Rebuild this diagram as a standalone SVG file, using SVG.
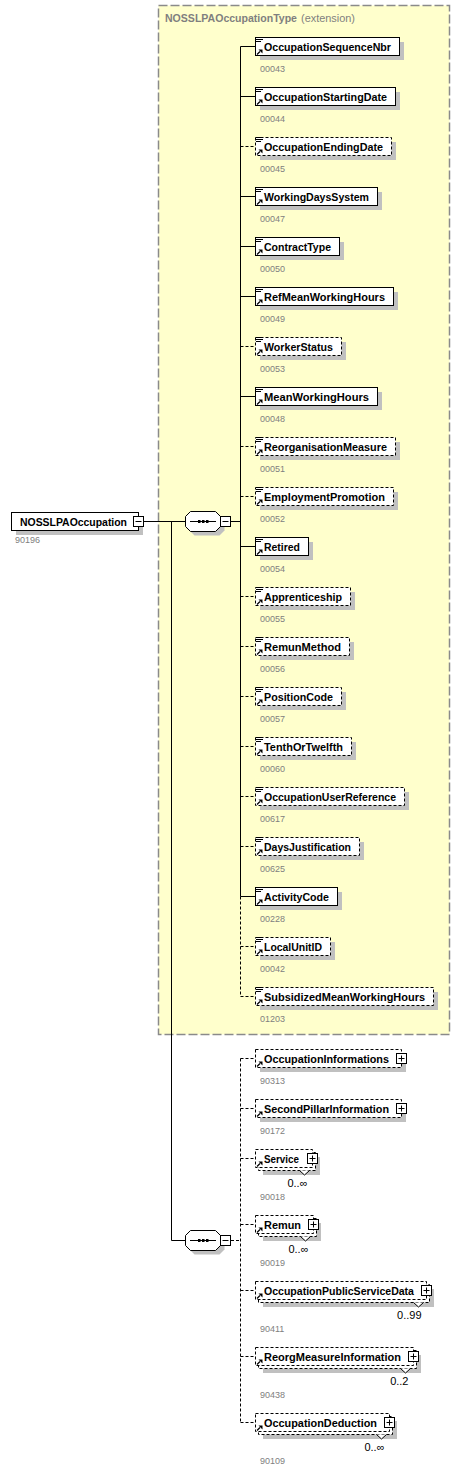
<svg xmlns="http://www.w3.org/2000/svg" width="461" height="1471" viewBox="0 0 461 1471">
<style>
.bx{fill:#fff;stroke:#000;stroke-width:1}
.opt{stroke-dasharray:3 2}
.sh{fill:#c0c0c0}
.nm{font-family:"Liberation Sans",Arial,sans-serif;font-weight:bold;font-size:11.5px;fill:#000}
.sb{font-family:"Liberation Sans",Arial,sans-serif;font-size:9px;fill:#808080}
.mu{font-family:"Liberation Sans",Arial,sans-serif;font-size:11px;fill:#000}
.tt{font-family:"Liberation Sans",Arial,sans-serif;font-size:11px;fill:#7f7f7f}
.ln{fill:none;stroke:#000;stroke-width:1}
.dl{stroke-dasharray:3 2}
.chev{fill:#fff;stroke:#000;stroke-width:1}
</style>
<defs>
<g id="doc"><rect x="1" y="0" width="7" height="5" fill="#fff"/><path d="M1 0.5h7M1 2.5h7M1 4.5h5" stroke="#000" stroke-width="1"/></g>
<g id="arr"><path d="M2 6.5L5 3.5" stroke="#000" stroke-width="1.2"/><path d="M3.5 1.5H7.5V5.5Z" fill="#000"/></g>
<g id="plus"><rect x="0" y="0" width="10" height="10" fill="#fff" stroke="#000"/><path d="M2 5h6M5 2v6" stroke="#000"/></g>
<g id="minus"><rect x="0" y="0" width="10" height="10" fill="#fff" stroke="#000"/><path d="M2 5h6" stroke="#000"/></g>
<g id="seq">
<path class="sh" d="M194.5 515.5H219.5L224.5 520.5V530.5L219.5 535.5H194.5L189.5 530.5V520.5Z"/>
<path d="M190.5 511.5H215.5L220.5 516.5V526.5L215.5 531.5H190.5L185.5 526.5V516.5Z" fill="#fff" stroke="#000"/>
<path d="M190 521.5H216" stroke="#000"/>
<rect x="198" y="520" width="2.5" height="3" fill="#000"/>
<rect x="202" y="520" width="2.5" height="3" fill="#000"/>
<rect x="206" y="520" width="2.5" height="3" fill="#000"/>
<use href="#minus" x="220.5" y="516.5"/>
</g>
</defs>

<g id="type-box">
<rect x="158.5" y="5.5" width="291" height="1029" fill="#FFFFCC" stroke="#8a8a8a" stroke-width="1.5" stroke-dasharray="9 3"/>
<text class="tt" x="165" y="21.5" font-weight="bold" textLength="132" lengthAdjust="spacingAndGlyphs">NOSSLPAOccupationType</text>
<text class="tt" x="301" y="21.5" textLength="54" lengthAdjust="spacingAndGlyphs">(extension)</text>
</g>

<g id="connectors">
<path class="ln" d="M143.5 521.5H186"/>
<path class="ln" d="M171.5 521.5V1240.5H186"/>
<path class="ln" d="M231 521.5H240.5"/>
<path class="ln" d="M240.5 46.5V896.5"/>
<path class="ln dl" d="M240.5 896.5V996.5"/>
<path class="ln" d="M240.5 46.5H255.5M240.5 96.5H255.5M240.5 196.5H255.5M240.5 246.5H255.5M240.5 296.5H255.5M240.5 396.5H255.5M240.5 546.5H255.5M240.5 896.5H255.5"/>
<path class="ln dl" d="M240.5 146.5H255.5M240.5 346.5H255.5M240.5 446.5H255.5M240.5 496.5H255.5M240.5 596.5H255.5M240.5 646.5H255.5M240.5 696.5H255.5M240.5 746.5H255.5M240.5 796.5H255.5M240.5 846.5H255.5M240.5 946.5H255.5M240.5 996.5H255.5"/>
<path class="ln dl" d="M231 1240.5H240.5"/>
<path class="ln dl" d="M240.5 1058.5V1422.5"/>
<path class="ln dl" d="M240.5 1058.5H255.5M240.5 1108.5H255.5M240.5 1158.5H255.5M240.5 1224.5H255.5M240.5 1290.5H255.5M240.5 1356.5H255.5M240.5 1422.5H255.5"/>
</g>

<g id="NOSSLPAOccupation" transform="translate(11,512)">
<rect class="sh" x="5" y="5" width="127" height="18"/>
<rect class="bx" x="0.5" y="0.5" width="127" height="18"/>
<text class="nm" x="9" y="14" font-size="12" textLength="107" lengthAdjust="spacingAndGlyphs">NOSSLPAOccupation</text>
<use href="#minus" x="122.5" y="4.5"/>
<text class="sb" x="4" y="31">90196</text>
</g>

<g id="sequence1"><use href="#seq"/></g>
<g id="sequence2"><use href="#seq" transform="translate(0,719)"/></g>

<g id="OccupationSequenceNbr" transform="translate(255,37)">
<rect class="sh" x="5" y="5" width="144" height="18"/><rect class="bx" x="0.5" y="0.5" width="144" height="18"/>
<use href="#doc"/><use href="#arr" y="11"/>
<text class="nm" x="9" y="13.5" textLength="127" lengthAdjust="spacingAndGlyphs">OccupationSequenceNbr</text>
<text class="sb" x="5" y="34.5">00043</text></g>

<g id="OccupationStartingDate" transform="translate(255,87)">
<rect class="sh" x="5" y="5" width="140" height="18"/><rect class="bx" x="0.5" y="0.5" width="140" height="18"/>
<use href="#doc"/><use href="#arr" y="11"/>
<text class="nm" x="9" y="13.5" textLength="123" lengthAdjust="spacingAndGlyphs">OccupationStartingDate</text>
<text class="sb" x="5" y="34.5">00044</text></g>

<g id="OccupationEndingDate" transform="translate(255,137)">
<rect class="sh" x="5" y="5" width="136" height="18"/><rect class="bx opt" x="0.5" y="0.5" width="136" height="18"/>
<use href="#doc"/><use href="#arr" y="11"/>
<text class="nm" x="9" y="13.5" textLength="119" lengthAdjust="spacingAndGlyphs">OccupationEndingDate</text>
<text class="sb" x="5" y="34.5">00045</text></g>

<g id="WorkingDaysSystem" transform="translate(255,187)">
<rect class="sh" x="5" y="5" width="122" height="18"/><rect class="bx" x="0.5" y="0.5" width="122" height="18"/>
<use href="#doc"/><use href="#arr" y="11"/>
<text class="nm" x="9" y="13.5" textLength="105" lengthAdjust="spacingAndGlyphs">WorkingDaysSystem</text>
<text class="sb" x="5" y="34.5">00047</text></g>

<g id="ContractType" transform="translate(255,237)">
<rect class="sh" x="5" y="5" width="84" height="18"/><rect class="bx" x="0.5" y="0.5" width="84" height="18"/>
<use href="#doc"/><use href="#arr" y="11"/>
<text class="nm" x="9" y="13.5" textLength="67" lengthAdjust="spacingAndGlyphs">ContractType</text>
<text class="sb" x="5" y="34.5">00050</text></g>

<g id="RefMeanWorkingHours" transform="translate(255,287)">
<rect class="sh" x="5" y="5" width="138" height="18"/><rect class="bx" x="0.5" y="0.5" width="138" height="18"/>
<use href="#doc"/><use href="#arr" y="11"/>
<text class="nm" x="9" y="13.5" textLength="121" lengthAdjust="spacingAndGlyphs">RefMeanWorkingHours</text>
<text class="sb" x="5" y="34.5">00049</text></g>

<g id="WorkerStatus" transform="translate(255,337)">
<rect class="sh" x="5" y="5" width="86" height="18"/><rect class="bx opt" x="0.5" y="0.5" width="86" height="18"/>
<use href="#doc"/><use href="#arr" y="11"/>
<text class="nm" x="9" y="13.5" textLength="69" lengthAdjust="spacingAndGlyphs">WorkerStatus</text>
<text class="sb" x="5" y="34.5">00053</text></g>

<g id="MeanWorkingHours" transform="translate(255,387)">
<rect class="sh" x="5" y="5" width="122" height="18"/><rect class="bx" x="0.5" y="0.5" width="122" height="18"/>
<use href="#doc"/><use href="#arr" y="11"/>
<text class="nm" x="9" y="13.5" textLength="105" lengthAdjust="spacingAndGlyphs">MeanWorkingHours</text>
<text class="sb" x="5" y="34.5">00048</text></g>

<g id="ReorganisationMeasure" transform="translate(255,437)">
<rect class="sh" x="5" y="5" width="140" height="18"/><rect class="bx opt" x="0.5" y="0.5" width="140" height="18"/>
<use href="#doc"/><use href="#arr" y="11"/>
<text class="nm" x="9" y="13.5" textLength="123" lengthAdjust="spacingAndGlyphs">ReorganisationMeasure</text>
<text class="sb" x="5" y="34.5">00051</text></g>

<g id="EmploymentPromotion" transform="translate(255,487)">
<rect class="sh" x="5" y="5" width="138" height="18"/><rect class="bx opt" x="0.5" y="0.5" width="138" height="18"/>
<use href="#doc"/><use href="#arr" y="11"/>
<text class="nm" x="9" y="13.5" textLength="121" lengthAdjust="spacingAndGlyphs">EmploymentPromotion</text>
<text class="sb" x="5" y="34.5">00052</text></g>

<g id="Retired" transform="translate(255,537)">
<rect class="sh" x="5" y="5" width="53" height="18"/><rect class="bx" x="0.5" y="0.5" width="53" height="18"/>
<use href="#doc"/><use href="#arr" y="11"/>
<text class="nm" x="9" y="13.5" textLength="36" lengthAdjust="spacingAndGlyphs">Retired</text>
<text class="sb" x="5" y="34.5">00054</text></g>

<g id="Apprenticeship" transform="translate(255,587)">
<rect class="sh" x="5" y="5" width="95" height="18"/><rect class="bx opt" x="0.5" y="0.5" width="95" height="18"/>
<use href="#doc"/><use href="#arr" y="11"/>
<text class="nm" x="9" y="13.5" textLength="78" lengthAdjust="spacingAndGlyphs">Apprenticeship</text>
<text class="sb" x="5" y="34.5">00055</text></g>

<g id="RemunMethod" transform="translate(255,637)">
<rect class="sh" x="5" y="5" width="94" height="18"/><rect class="bx opt" x="0.5" y="0.5" width="94" height="18"/>
<use href="#doc"/><use href="#arr" y="11"/>
<text class="nm" x="9" y="13.5" textLength="77" lengthAdjust="spacingAndGlyphs">RemunMethod</text>
<text class="sb" x="5" y="34.5">00056</text></g>

<g id="PositionCode" transform="translate(255,687)">
<rect class="sh" x="5" y="5" width="86" height="18"/><rect class="bx opt" x="0.5" y="0.5" width="86" height="18"/>
<use href="#doc"/><use href="#arr" y="11"/>
<text class="nm" x="9" y="13.5" textLength="69" lengthAdjust="spacingAndGlyphs">PositionCode</text>
<text class="sb" x="5" y="34.5">00057</text></g>

<g id="TenthOrTwelfth" transform="translate(255,737)">
<rect class="sh" x="5" y="5" width="96" height="18"/><rect class="bx opt" x="0.5" y="0.5" width="96" height="18"/>
<use href="#doc"/><use href="#arr" y="11"/>
<text class="nm" x="9" y="13.5" textLength="79" lengthAdjust="spacingAndGlyphs">TenthOrTwelfth</text>
<text class="sb" x="5" y="34.5">00060</text></g>

<g id="OccupationUserReference" transform="translate(255,787)">
<rect class="sh" x="5" y="5" width="149" height="18"/><rect class="bx opt" x="0.5" y="0.5" width="149" height="18"/>
<use href="#doc"/><use href="#arr" y="11"/>
<text class="nm" x="9" y="13.5" textLength="132" lengthAdjust="spacingAndGlyphs">OccupationUserReference</text>
<text class="sb" x="5" y="34.5">00617</text></g>

<g id="DaysJustification" transform="translate(255,837)">
<rect class="sh" x="5" y="5" width="104" height="18"/><rect class="bx opt" x="0.5" y="0.5" width="104" height="18"/>
<use href="#doc"/><use href="#arr" y="11"/>
<text class="nm" x="9" y="13.5" textLength="87" lengthAdjust="spacingAndGlyphs">DaysJustification</text>
<text class="sb" x="5" y="34.5">00625</text></g>

<g id="ActivityCode" transform="translate(255,887)">
<rect class="sh" x="5" y="5" width="82" height="18"/><rect class="bx" x="0.5" y="0.5" width="82" height="18"/>
<use href="#doc"/><use href="#arr" y="11"/>
<text class="nm" x="9" y="13.5" textLength="65" lengthAdjust="spacingAndGlyphs">ActivityCode</text>
<text class="sb" x="5" y="34.5">00228</text></g>

<g id="LocalUnitID" transform="translate(255,937)">
<rect class="sh" x="5" y="5" width="75" height="18"/><rect class="bx opt" x="0.5" y="0.5" width="75" height="18"/>
<use href="#doc"/><use href="#arr" y="11"/>
<text class="nm" x="9" y="13.5" textLength="58" lengthAdjust="spacingAndGlyphs">LocalUnitID</text>
<text class="sb" x="5" y="34.5">00042</text></g>

<g id="SubsidizedMeanWorkingHours" transform="translate(255,987)">
<rect class="sh" x="5" y="5" width="178" height="18"/><rect class="bx opt" x="0.5" y="0.5" width="178" height="18"/>
<use href="#doc"/><use href="#arr" y="11"/>
<text class="nm" x="9" y="13.5" textLength="161" lengthAdjust="spacingAndGlyphs">SubsidizedMeanWorkingHours</text>
<text class="sb" x="5" y="34.5">01203</text></g>

<g id="OccupationInformations" transform="translate(255,1049)">
<rect class="sh" x="5" y="5" width="146" height="18"/><rect class="bx opt" x="0.5" y="0.5" width="146" height="18"/>
<use href="#arr" y="11"/>
<text class="nm" x="9" y="13.5" textLength="125" lengthAdjust="spacingAndGlyphs">OccupationInformations</text>
<use href="#plus" x="141.5" y="4.5"/>
<text class="sb" x="5" y="34.5">90313</text></g>

<g id="SecondPillarInformation" transform="translate(255,1099)">
<rect class="sh" x="5" y="5" width="146" height="18"/><rect class="bx opt" x="0.5" y="0.5" width="146" height="18"/>
<use href="#arr" y="11"/>
<text class="nm" x="9" y="13.5" textLength="125" lengthAdjust="spacingAndGlyphs">SecondPillarInformation</text>
<use href="#plus" x="141.5" y="4.5"/>
<text class="sb" x="5" y="34.5">90172</text></g>

<g id="Service" transform="translate(255,1149)">
<rect class="sh" x="8" y="8" width="57" height="18"/>
<rect class="bx opt" x="3.5" y="3.5" width="57" height="18"/>
<rect class="bx opt" x="0.5" y="0.5" width="57" height="18"/>
<use href="#arr" y="11"/>
<text class="nm" x="9" y="13.5" textLength="35" lengthAdjust="spacingAndGlyphs">Service</text>
<use href="#plus" x="52.5" y="4.5"/>
<path class="chev" d="M44.5 21.5L49.5 26L54.5 21.5"/>
<text class="mu" x="52.5" y="37.5" text-anchor="end">0..∞</text>
<text class="sb" x="5" y="50.5">90018</text></g>

<g id="Remun" transform="translate(255,1215)">
<rect class="sh" x="8" y="8" width="58" height="18"/>
<rect class="bx opt" x="3.5" y="3.5" width="58" height="18"/>
<rect class="bx opt" x="0.5" y="0.5" width="58" height="18"/>
<use href="#arr" y="11"/>
<text class="nm" x="9" y="13.5" textLength="37" lengthAdjust="spacingAndGlyphs">Remun</text>
<use href="#plus" x="53.5" y="4.5"/>
<path class="chev" d="M45.5 21.5L50.5 26L55.5 21.5"/>
<text class="mu" x="53.5" y="37.5" text-anchor="end">0..∞</text>
<text class="sb" x="5" y="50.5">90019</text></g>

<g id="OccupationPublicServiceData" transform="translate(255,1281)">
<rect class="sh" x="8" y="8" width="171" height="18"/>
<rect class="bx opt" x="3.5" y="3.5" width="171" height="18"/>
<rect class="bx opt" x="0.5" y="0.5" width="171" height="18"/>
<use href="#arr" y="11"/>
<text class="nm" x="9" y="13.5" textLength="150" lengthAdjust="spacingAndGlyphs">OccupationPublicServiceData</text>
<use href="#plus" x="166.5" y="4.5"/>
<path class="chev" d="M158.5 21.5L163.5 26L168.5 21.5"/>
<text class="mu" x="166.5" y="37.5" text-anchor="end">0..99</text>
<text class="sb" x="5" y="50.5">90411</text></g>

<g id="ReorgMeasureInformation" transform="translate(255,1347)">
<rect class="sh" x="8" y="8" width="158" height="18"/>
<rect class="bx opt" x="3.5" y="3.5" width="158" height="18"/>
<rect class="bx opt" x="0.5" y="0.5" width="158" height="18"/>
<use href="#arr" y="11"/>
<text class="nm" x="9" y="13.5" textLength="137" lengthAdjust="spacingAndGlyphs">ReorgMeasureInformation</text>
<use href="#plus" x="153.5" y="4.5"/>
<path class="chev" d="M145.5 21.5L150.5 26L155.5 21.5"/>
<text class="mu" x="153.5" y="37.5" text-anchor="end">0..2</text>
<text class="sb" x="5" y="50.5">90438</text></g>

<g id="OccupationDeduction" transform="translate(255,1413)">
<rect class="sh" x="8" y="8" width="134" height="18"/>
<rect class="bx opt" x="3.5" y="3.5" width="134" height="18"/>
<rect class="bx opt" x="0.5" y="0.5" width="134" height="18"/>
<use href="#arr" y="11"/>
<text class="nm" x="9" y="13.5" textLength="113" lengthAdjust="spacingAndGlyphs">OccupationDeduction</text>
<use href="#plus" x="129.5" y="4.5"/>
<path class="chev" d="M121.5 21.5L126.5 26L131.5 21.5"/>
<text class="mu" x="129.5" y="37.5" text-anchor="end">0..∞</text>
<text class="sb" x="5" y="50.5">90109</text></g>
</svg>
